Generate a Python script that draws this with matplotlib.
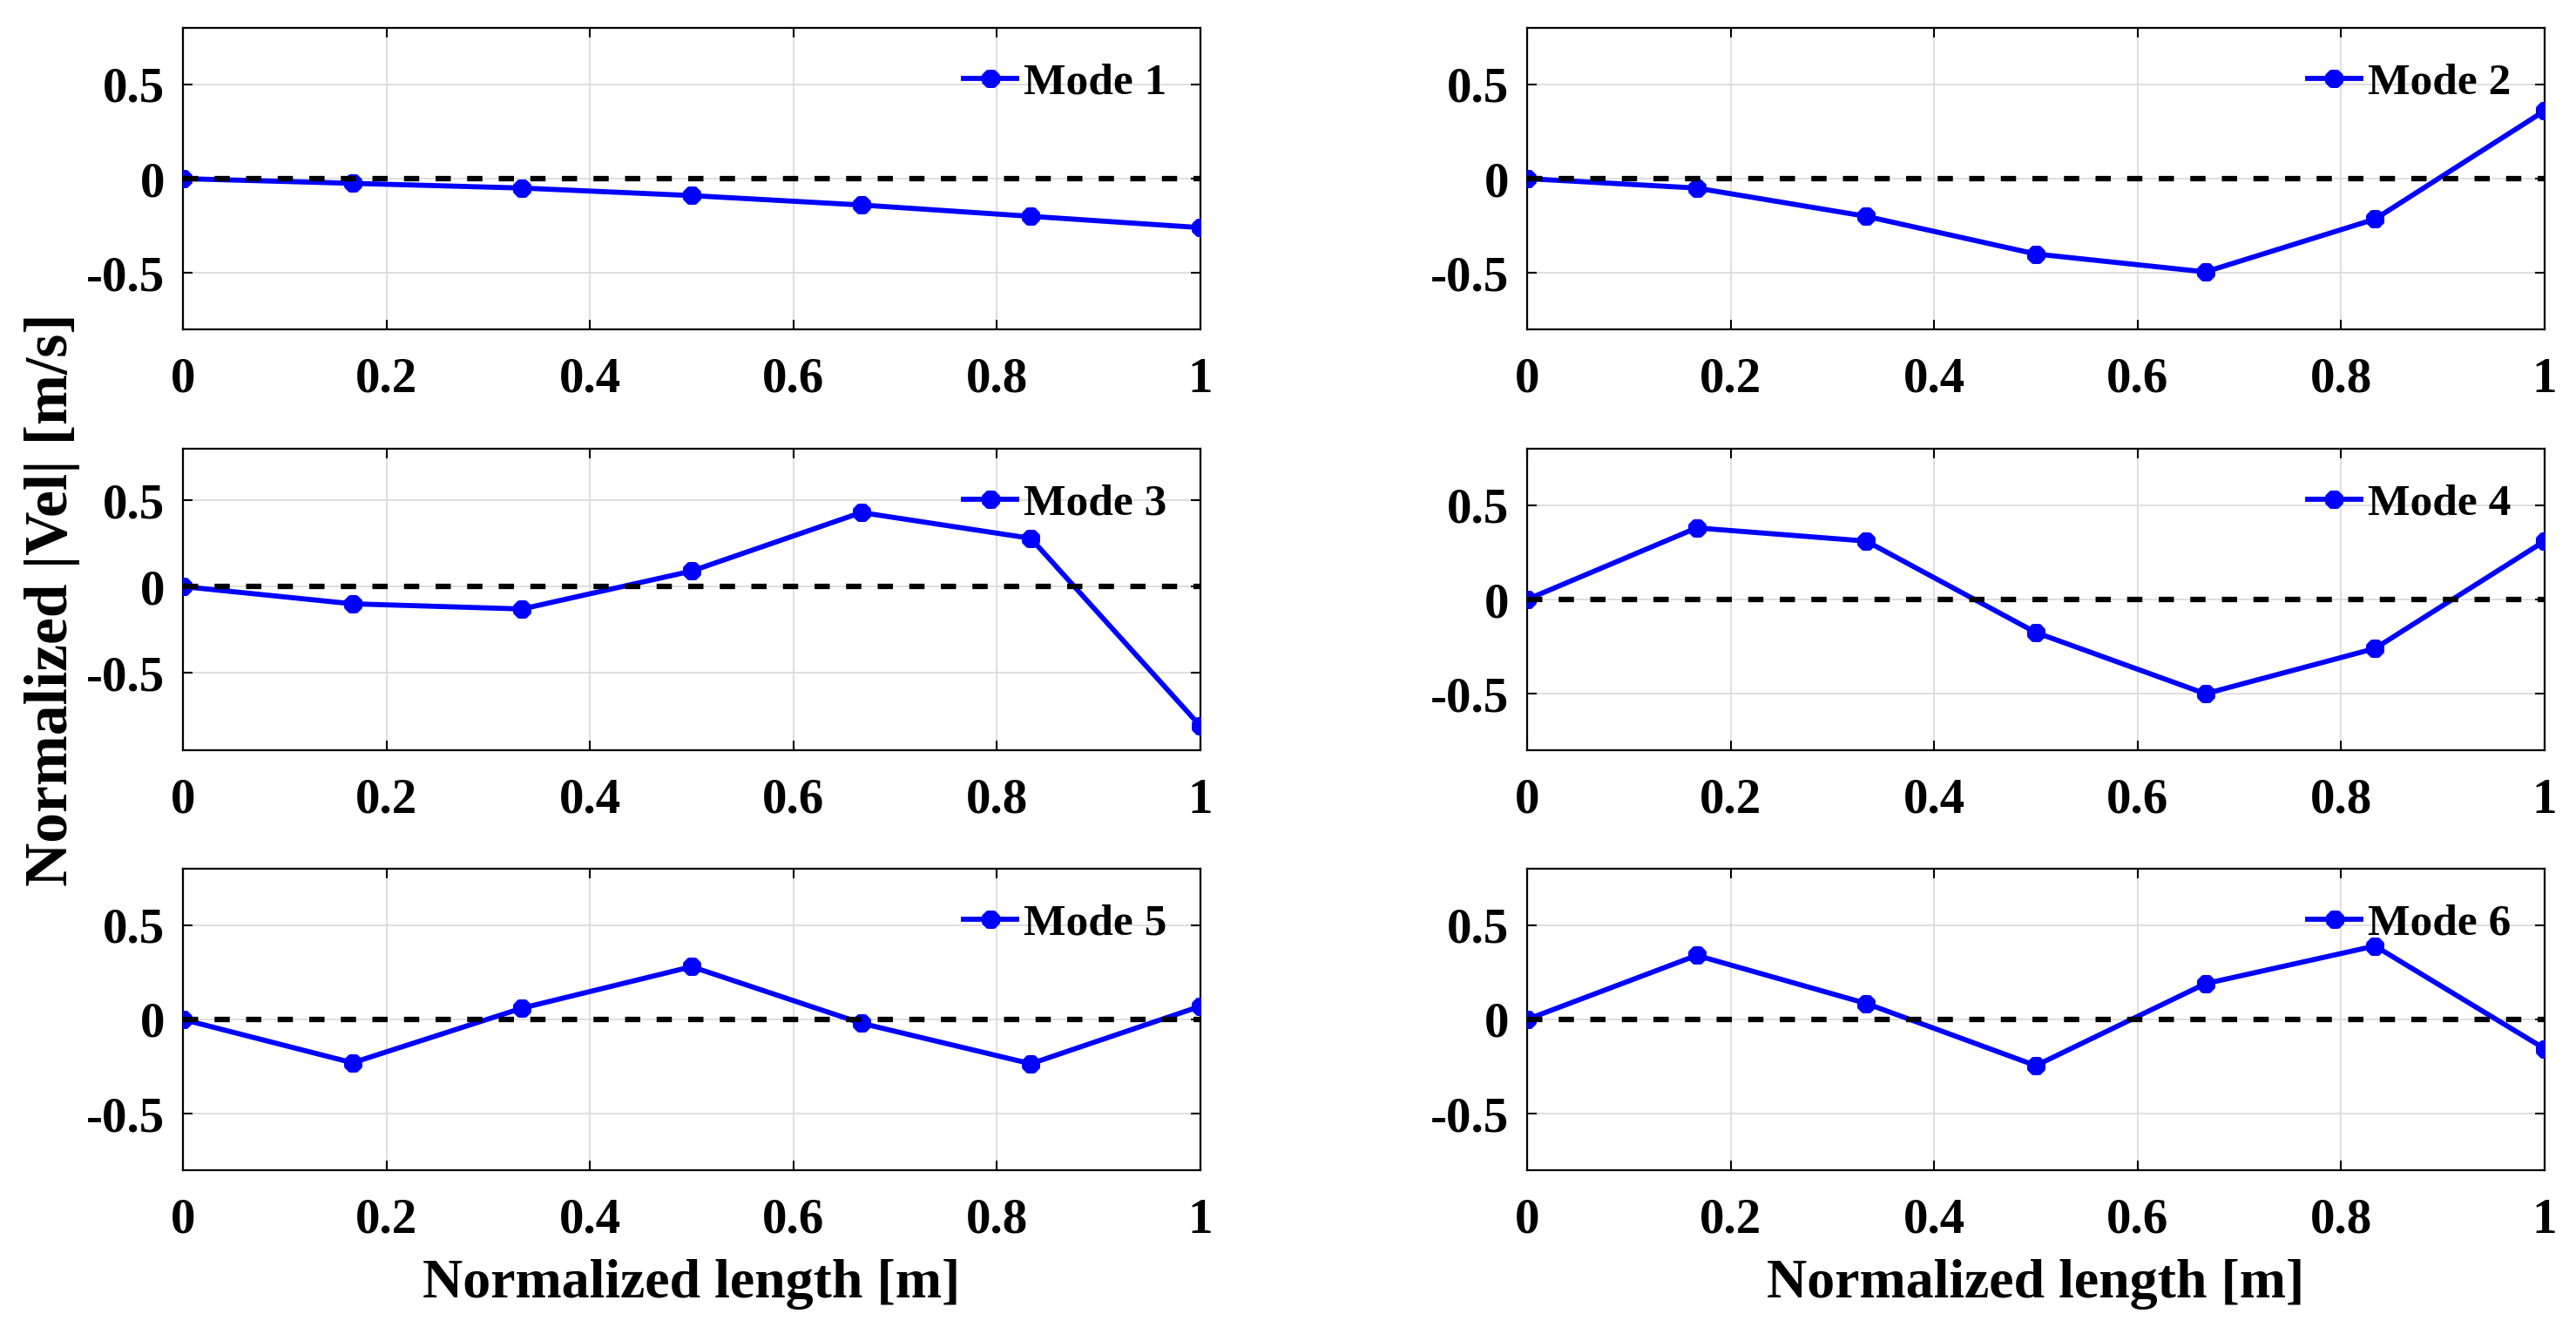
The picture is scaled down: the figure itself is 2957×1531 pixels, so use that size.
"""
plot.py - normalized velocity mode shapes (6 modes, 3x2 subplots)
"""
import matplotlib
matplotlib.use("Agg")
import matplotlib.pyplot as plt

plt.rcParams["font.family"] = ["Liberation Serif", "DejaVu Serif"]
plt.rcParams["font.weight"] = "bold"
plt.rcParams["axes.unicode_minus"] = False

# ---- data ----------------------------------------------------------
x_pos = [0, 0.1667, 0.3333, 0.5, 0.6667, 0.8333, 1]

mode1 = [0, -0.025, -0.05, -0.09, -0.14, -0.20, -0.26]
mode2 = [0, -0.05, -0.20, -0.40, -0.495, -0.215, 0.36]
mode3 = [0, -0.10, -0.13, 0.09, 0.43, 0.28, -0.81]
mode4 = [0, 0.38, 0.31, -0.175, -0.50, -0.26, 0.31]
mode5 = [0, -0.23, 0.06, 0.28, -0.02, -0.235, 0.07]
mode6 = [0, 0.34, 0.085, -0.245, 0.19, 0.39, -0.155]

modes = [mode1, mode2, mode3, mode4, mode5, mode6]
mode_names = ["Mode 1", "Mode 2", "Mode 3", "Mode 4", "Mode 5", "Mode 6"]
y_limits = [(-0.8, 0.8), (-0.8, 0.8), (-0.95, 0.8),
            (-0.8, 0.8), (-0.8, 0.8), (-0.8, 0.8)]

x_ticks = [0, 0.2, 0.4, 0.6, 0.8, 1]
x_tick_labels = ["0", "0.2", "0.4", "0.6", "0.8", "1"]
y_ticks = [-0.5, 0, 0.5]
y_tick_labels = ["-0.5", "0", "0.5"]

x_label = "Normalized length [m]"
y_label = "Normalized |Vel| [m/s]"

# ---- layout (figure fractions) --------------------------------------
col_left = [0.0710, 0.5928]
col_width = 0.3950
row_bottom = [0.7531, 0.4376, 0.1228]
row_height = 0.2260

fig = plt.figure(figsize=(29.57, 15.31), dpi=100)

axes = []
for i, (ys, name) in enumerate(zip(modes, mode_names)):
    r, c = divmod(i, 2)
    ax = fig.add_axes([col_left[c], row_bottom[r], col_width, row_height])
    axes.append(ax)

    ax.plot(x_pos, ys, color="#0000ff", lw=4.2, marker=(8, 2, 0),
            ms=15, mew=5.5, label=name, zorder=3)
    ax.axhline(0, color="k", ls="--", lw=4.5, dashes=(2.8, 3.0), zorder=4)

    ax.set_xlim(0, 1)
    ax.set_ylim(*y_limits[i])
    ax.set_xticks(x_ticks)
    ax.set_xticklabels(x_tick_labels)
    ax.set_yticks(y_ticks)
    ax.set_yticklabels(y_tick_labels)

    ax.grid(True, color="#dcdcdc", lw=1.3)
    ax.set_axisbelow(True)
    ax.tick_params(axis="both", direction="in", top=True, right=True,
                   length=8, width=1.5, labelsize=41)
    ax.tick_params(axis="x", pad=23)
    ax.tick_params(axis="y", pad=15)
    for sp in ax.spines.values():
        sp.set_linewidth(1.6)

    ax.legend(loc="center right", bbox_to_anchor=(0.967, 0.817),
              frameon=False, fontsize=37, handlelength=1.2,
              handletextpad=0.15, borderpad=0, borderaxespad=0)

# axis labels
for ax in axes[4:]:
    ax.set_xlabel(x_label, fontsize=46, fontweight="bold")
    ax.xaxis.set_label_coords(0.5, -0.38)
    ax.xaxis.label.set_va("center")

axes[2].set_ylabel(y_label, fontsize=50, fontweight="bold")
axes[2].yaxis.set_label_coords(-0.128, 0.5)
axes[2].yaxis.label.set_va("center")

fig.savefig("out.png", dpi=100)
